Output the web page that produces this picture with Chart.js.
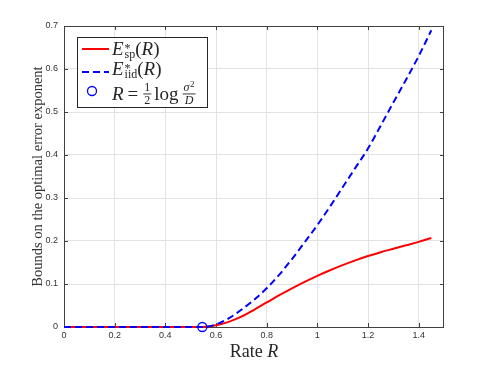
<!DOCTYPE html>
<html>
<head>
<meta charset="utf-8">
<script src="https://cdn.jsdelivr.net/npm/chart.js@4"></script>
<style>
  html, body { margin: 0; padding: 0; background: #fff; }
  #wrap { width: 491px; height: 368px; }
</style>
</head>
<body>
<div id="wrap"><canvas id="chart"></canvas></div>
<script>
// values
const rates = [0, 0.1, 0.2, 0.3, 0.4, 0.5, 0.546, 0.6, 0.65, 0.7, 0.75, 0.8, 0.85, 0.9, 0.95,
  1.0, 1.05, 1.1, 1.15, 1.2, 1.25, 1.3, 1.35, 1.4, 1.45];
const espValues = [0, 0, 0, 0, 0, 0, 0, 0.004, 0.012, 0.024, 0.04, 0.057, 0.074, 0.09, 0.105,
  0.119, 0.132, 0.144, 0.155, 0.165, 0.174, 0.182, 0.19, 0.198, 0.207];
const eiidValues = [0, 0, 0, 0, 0, 0, 0, 0.006, 0.02, 0.04, 0.063, 0.09, 0.122, 0.158, 0.197,
  0.237, 0.28, 0.325, 0.37, 0.415, 0.468, 0.522, 0.575, 0.63, 0.69];
const markerRate = [0.546];
const markerValue = [0];
const xTicks = [0, 0.2, 0.4, 0.6, 0.8, 1, 1.2, 1.4];
const yTicks = [0, 0.1, 0.2, 0.3, 0.4, 0.5, 0.6, 0.7];

const toPoints = (xs, ys) => xs.map((x, i) => ({ x: x, y: ys[i] }));

const SERIF = '"Liberation Serif", "DejaVu Serif", serif';
const AXIS = '#404040';

// draws a sequence of text pieces, returns the end x
function drawRuns(ctx, x, y, parts) {
  parts.forEach(p => {
    ctx.font = p.font;
    ctx.fillText(p.t, x, y + (p.dy || 0));
    if (!p.stay) x += ctx.measureText(p.t).width + (p.sp || 0);
  });
  return x;
}

// stacked fraction, numerator may carry a superscript
function drawFrac(ctx, x, barY, num, den) {
  const supFont = '9px ' + SERIF;
  ctx.font = num.font;
  let wn = ctx.measureText(num.t).width;
  let ws = 0;
  if (num.sup) { ctx.font = supFont; ws = ctx.measureText(num.sup).width + 0.5; }
  const wTop = wn + ws;
  ctx.font = den.font;
  const wd = ctx.measureText(den.t).width;
  const w = Math.max(wTop, wd) + 2;
  const nx = x + (w - wTop) / 2;
  ctx.font = num.font;
  ctx.fillText(num.t, nx, barY - 3);
  if (num.sup) {
    ctx.font = supFont;
    ctx.fillText(num.sup, nx + wn + 0.5, barY - 7);
  }
  ctx.font = den.font;
  ctx.fillText(den.t, x + (w - wd) / 2, barY + 10);
  ctx.fillRect(x, barY - 0.5, w, 0.9);
  return x + w;
}

const boxPlugin = {
  id: 'box',
  beforeDatasetsDraw(chart) {
    const { ctx, chartArea: a, scales } = chart;
    ctx.save();
    ctx.strokeStyle = AXIS;
    ctx.lineWidth = 1;
    ctx.strokeRect(a.left + 0.5, a.top + 0.5, a.right - a.left - 1, a.bottom - a.top);
    ctx.beginPath();
    xTicks.forEach(v => {
      const px = Math.round(scales.x.getPixelForValue(v)) + 0.5;
      ctx.moveTo(px, a.bottom); ctx.lineTo(px, a.bottom - 4);
      ctx.moveTo(px, a.top); ctx.lineTo(px, a.top + 4);
    });
    yTicks.forEach(v => {
      const py = Math.round(scales.y.getPixelForValue(v)) + 0.5;
      ctx.moveTo(a.left, py); ctx.lineTo(a.left + 4, py);
      ctx.moveTo(a.right, py); ctx.lineTo(a.right - 4, py);
    });
    ctx.stroke();
    ctx.restore();
  },
  afterDraw(chart) {
    const { ctx, chartArea: a } = chart;
    ctx.save();
    ctx.fillStyle = '#262626';
    ctx.textBaseline = 'alphabetic';

    // x title: Rate R
    ctx.font = '18px ' + SERIF;
    const w1 = ctx.measureText('Rate ').width;
    ctx.font = 'italic 18px ' + SERIF;
    const w2 = ctx.measureText('R').width;
    const cx = (a.left + a.right) / 2;
    drawRuns(ctx, cx - (w1 + w2) / 2, 357, [
      { t: 'Rate ', font: '18px ' + SERIF },
      { t: 'R', font: 'italic 18px ' + SERIF }
    ]);

    // y title
    ctx.save();
    ctx.translate(38, (a.top + a.bottom) / 2);
    ctx.rotate(-Math.PI / 2);
    ctx.textAlign = 'center';
    ctx.textBaseline = 'middle';
    ctx.font = '14.5px ' + SERIF;
    ctx.fillStyle = '#333';
    ctx.fillText('Bounds on the optimal error exponent', 0, 0);
    ctx.restore();

    // legend box
    const bx = 77, by = 37, bw = 130, bh = 70;
    ctx.fillStyle = '#fff';
    ctx.fillRect(bx, by, bw, bh);
    ctx.strokeStyle = '#262626';
    ctx.lineWidth = 1;
    ctx.strokeRect(bx + 0.5, by + 0.5, bw, bh);

    ctx.lineWidth = 2;
    ctx.strokeStyle = '#ff0000';
    ctx.beginPath(); ctx.moveTo(82, 49); ctx.lineTo(109, 49); ctx.stroke();
    ctx.strokeStyle = '#0000ff';
    ctx.setLineDash([7, 4]);
    ctx.beginPath(); ctx.moveTo(82, 72); ctx.lineTo(109, 72); ctx.stroke();
    ctx.setLineDash([]);
    ctx.lineWidth = 1.3;
    ctx.beginPath(); ctx.arc(92, 91, 4.5, 0, Math.PI * 2); ctx.stroke();

    ctx.fillStyle = '#262626';
    const big = '19px ' + SERIF, bigI = 'italic 19px ' + SERIF, small = '12px ' + SERIF;
    drawRuns(ctx, 112, 55, [
      { t: 'E', font: bigI, sp: 1 },
      { t: '*', font: small, dy: -3, stay: true },
      { t: 'sp', font: small, dy: 3 },
      { t: '(', font: big }, { t: 'R', font: bigI }, { t: ')', font: big }
    ]);
    drawRuns(ctx, 112, 75, [
      { t: 'E', font: bigI, sp: 1 },
      { t: '*', font: small, dy: -3, stay: true },
      { t: 'iid', font: small, dy: 3 },
      { t: '(', font: big }, { t: 'R', font: bigI }, { t: ')', font: big }
    ]);
    let x = drawRuns(ctx, 112, 100, [
      { t: 'R', font: bigI, sp: 4 },
      { t: '=', font: big, sp: 5 }
    ]);
    x = drawFrac(ctx, x, 94, { t: '1', font: small }, { t: '2', font: small }) + 3;
    x = drawRuns(ctx, x, 100, [{ t: 'log', font: big, sp: 4 }]);
    drawFrac(ctx, x, 94, { t: 'σ', font: 'italic 12px ' + SERIF, sup: '2' }, { t: 'D', font: 'italic 12px ' + SERIF });
    ctx.restore();
  }
};

const tickFont = { family: '"Liberation Sans", Arial, sans-serif', size: 9 };

new Chart(document.getElementById('chart'), {
  type: 'line',
  data: {
    datasets: [
      {
        label: 'Esp',
        data: toPoints(rates, espValues),
        borderColor: '#ff0000',
        borderWidth: 2,
        pointRadius: 0,
        cubicInterpolationMode: 'monotone',
        clip: false,
        order: 3
      },
      {
        label: 'Eiid',
        data: toPoints(rates, eiidValues),
        borderColor: '#0000ff',
        borderWidth: 2,
        borderDash: [7, 4],
        pointRadius: 0,
        cubicInterpolationMode: 'monotone',
        clip: false,
        order: 2
      },
      {
        label: 'marker',
        data: toPoints(markerRate, markerValue),
        showLine: false,
        borderColor: '#0000ff',
        backgroundColor: 'rgba(0,0,0,0)',
        pointRadius: 4.5,
        pointBorderWidth: 1.3,
        clip: false,
        order: 1
      }
    ]
  },
  options: {
    responsive: true,
    maintainAspectRatio: false,
    animation: false,
    devicePixelRatio: 1,
    layout: { padding: { top: 26, right: 47, left: 0, bottom: 0 } },
    plugins: { legend: { display: false }, tooltip: { enabled: false } },
    scales: {
      x: {
        type: 'linear',
        min: 0,
        max: 1.5,
        afterBuildTicks: s => { s.ticks = xTicks.map(v => ({ value: v })); },
        afterFit: s => { s.height = 41; },
        ticks: { padding: 3, font: tickFont, color: '#333', maxRotation: 0, callback: v => String(v) },
        grid: { color: '#e3e3e3', drawTicks: false },
        border: { display: false }
      },
      y: {
        type: 'linear',
        min: 0,
        max: 0.7,
        afterBuildTicks: s => { s.ticks = yTicks.map(v => ({ value: v })); },
        afterFit: s => { s.width = 64; },
        ticks: { padding: 6, font: tickFont, color: '#333', callback: v => String(v) },
        grid: { color: '#e3e3e3', drawTicks: false },
        border: { display: false }
      }
    }
  },
  plugins: [boxPlugin]
});
</script>
</body>
</html>
